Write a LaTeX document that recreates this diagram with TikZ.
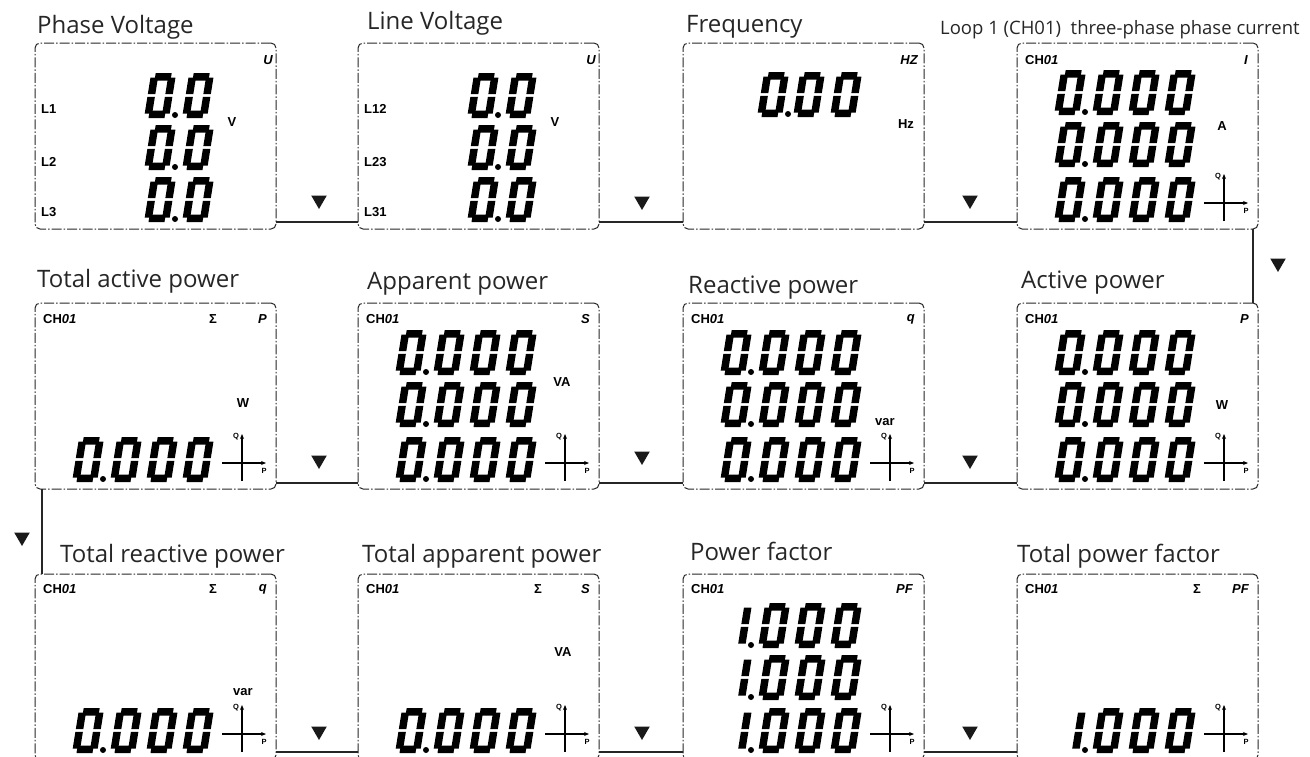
\documentclass[tikz,border=0pt]{standalone}
\usepackage{fontspec}
\setmainfont{Open Sans}
\newfontfamily\lcdf{Liberation Sans}
\usetikzlibrary{arrows.meta,shapes.geometric}

\newcommand\segzero[2]{\begin{scope}[shift={(#1,#2)},xslant=0.16,yscale=-1]
 \fill (4.5,37.5) rectangle (20.5,45);
 \fill (4.5,0) rectangle (20.5,7.5);
 \fill (0,23.8) rectangle (7.5,40.5);
 \fill (0,4.5) rectangle (7.5,21.2);
 \fill (17.5,23.8) rectangle (25,40.5);
 \fill (17.5,4.5) rectangle (25,21.2);
\end{scope}}
\newcommand\segone[2]{\begin{scope}[shift={(#1,#2)},xslant=0.16,yscale=-1]
 \fill (17.5,23.8) rectangle (25,40.5);
 \fill (17.5,4.5) rectangle (25,21.2);
\end{scope}}
\newcommand\segdot[2]{\fill (#1,#2) circle[radius=3];}
% 0.000 row: #1 = panel left, #2 = digit bottom
\newcommand\rowzero[2]{\segzero{#1+37}{#2}\segdot{#1+68}{#2-3}\segzero{#1+75}{#2}\segzero{#1+111}{#2}\segzero{#1+147}{#2}}
\newcommand\rowone[2]{\segone{#1+37}{#2}\segdot{#1+68}{#2-3}\segzero{#1+75}{#2}\segzero{#1+111}{#2}\segzero{#1+147}{#2}}
\newcommand\rowvolt[2]{\segzero{#1+109}{#2}\segdot{#1+140}{#2-3}\segzero{#1+147}{#2}}
% quadrant symbol: #1 left, #2 bottom, #3 name prefix
\newcommand\quadsym[3]{%
 \draw[qline] (#1+207,#2-8) -- (#1+207,#2-55);
 \draw[qline] (#1+187,#2-26) -- (#1+231,#2-26);
 \node[qlab] (#3q) at (#1+201,#2-52) {Q};
 \node[qlab] (#3p) at (#1+229,#2-18) {P};}

\begin{document}
\begin{tikzpicture}[x=1pt,y=-1pt,
  panel/.style={draw=black!85, line width=1pt, dash pattern=on 10pt off 2pt on 1.5pt off 2pt,
    rounded corners=5pt, minimum width=241pt, minimum height=186pt, inner sep=0pt, outer sep=0pt, anchor=north west},
  ttl/.style={anchor=base west, inner sep=0pt, font=\fontsize{24}{28}\selectfont, text=black!85},
  conn/.style={draw=black!85, line width=1.2pt},
  tri/.style={regular polygon, regular polygon sides=3, shape border rotate=180, fill=black!90, draw=none,
    minimum size=18pt, inner sep=0pt},
  lcd/.style={font=\lcdf\bfseries\fontsize{13}{13}\selectfont, inner sep=0pt},
  qline/.style={line width=2pt, -{Stealth[length=5pt,width=4pt]}},
  qlab/.style={font=\lcdf\bfseries\fontsize{7.5}{7.5}\selectfont, inner sep=0pt}]
\useasboundingbox (0,0) rectangle (1310,756);
\clip (0,0) rectangle (1310,756);

% panels
\node[panel] (p1) at (35,43) {};
\node[panel] (p2) at (358,43) {};
\node[panel] (p3) at (683,43) {};
\node[panel] (p4) at (1017,43) {};
\node[panel] (p5) at (35,303) {};
\node[panel] (p6) at (358,303) {};
\node[panel] (p7) at (683,303) {};
\node[panel] (p8) at (1017,303) {};
\node[panel] (p9) at (35,574) {};
\node[panel] (p10) at (358,574) {};
\node[panel] (p11) at (683,574) {};
\node[panel] (p12) at (1017,574) {};

% titles
\node[ttl] (t1) at (37,33) {Phase Voltage};
\node[ttl] (t2) at (367,29) {Line Voltage};
\node[ttl] (t3) at (686,32) {Frequency};
\node[ttl, font=\fontsize{18.5}{22}\selectfont] (t4) at (940,34) {Loop 1 (CH01)\ \ three-phase phase current};
\node[ttl] (t5) at (37,287) {Total active power};
\node[ttl] (t6) at (367,289) {Apparent power};
\node[ttl] (t7) at (688,293) {Reactive power};
\node[ttl] (t8) at (1021,288) {Active power};
\node[ttl] (t9) at (60,562) {Total reactive power};
\node[ttl] (t10) at (362,562) {Total apparent power};
\node[ttl] (t11) at (690,560) {Power factor};
\node[ttl] (t12) at (1017,562) {Total power factor};

% connectors
\draw[conn] ([yshift=7pt]p1.south east) -- ([yshift=7pt]p2.south west);
\draw[conn] ([yshift=7pt]p2.south east) -- ([yshift=7pt]p3.south west);
\draw[conn] ([yshift=7pt]p3.south east) -- ([yshift=7pt]p4.south west);
\draw[conn] ([xshift=-5pt]p4.south east) -- ([xshift=-5pt]p8.north east);
\draw[conn] ([yshift=6pt]p8.south west) -- ([yshift=6pt]p7.south east);
\draw[conn] ([yshift=6pt]p7.south west) -- ([yshift=6pt]p6.south east);
\draw[conn] ([yshift=6pt]p6.south west) -- ([yshift=6pt]p5.south east);
\draw[conn] ([xshift=7pt]p5.south west) -- ([xshift=7pt]p9.north west);
\draw[conn] ([yshift=8pt]p9.south east) -- ([yshift=8pt]p10.south west);
\draw[conn] ([yshift=8pt]p10.south east) -- ([yshift=8pt]p11.south west);
\draw[conn] ([yshift=8pt]p11.south east) -- ([yshift=8pt]p12.south west);

% triangles
\node[tri] (a1) at (319,200) {};
\node[tri] (a2) at (642,201) {};
\node[tri] (a3) at (970,200) {};
\node[tri] (a4) at (1278,263) {};
\node[tri] (a5) at (970,460) {};
\node[tri] (a6) at (642,456) {};
\node[tri] (a7) at (319,460) {};
\node[tri] (a8) at (22,537) {};
\node[tri] (a9) at (319,731) {};
\node[tri] (a10) at (642,731) {};
\node[tri] (a11) at (970,731) {};

% ---- panel 1
\node[lcd, anchor=east] (p1u) at (273,60) {\itshape U};
\node[lcd, anchor=west] (p1l1) at (41,109) {L1};
\node[lcd, anchor=west] (p1l2) at (41,162) {L2};
\node[lcd, anchor=west] (p1l3) at (41,212) {L3};
\node[lcd] (p1v) at (232,122) {V};
\rowvolt{35}{118}\rowvolt{35}{170}\rowvolt{35}{222}
% ---- panel 2
\node[lcd, anchor=east] (p2u) at (596,60) {\itshape U};
\node[lcd, anchor=west] (p2l1) at (364,109) {L12};
\node[lcd, anchor=west] (p2l2) at (364,162) {L23};
\node[lcd, anchor=west] (p2l3) at (364,212) {L31};
\node[lcd] (p2v) at (555,122) {V};
\rowvolt{358}{118}\rowvolt{358}{170}\rowvolt{358}{222}
% ---- panel 3
\node[lcd, anchor=east] (p3h) at (918,60) {\itshape HZ};
\node[lcd] (p3hz) at (906,124) {Hz};
\segzero{757}{117}\segdot{788}{114}\segzero{793}{117}\segzero{830}{117}
% ---- panel 4
\node[lcd, anchor=west] (p4c) at (1025,60) {CH\textit{01}};
\node[lcd, anchor=east] (p4i) at (1248,60) {\itshape I};
\node[lcd] (p4a) at (1222,126) {A};
\rowzero{1017}{115}\rowzero{1017}{167}\rowzero{1017}{222}
\quadsym{1017}{229}{p4}
% ---- panel 5
\node[lcd, anchor=west] (p5c) at (43,319) {CH\textit{01}};
\node[lcd] (p5s) at (213,319) {Σ};
\node[lcd, anchor=east] (p5p) at (267,319) {\itshape P};
\node[lcd] (p5w) at (243,403) {W};
\rowzero{35}{482}
\quadsym{35}{489}{p5}
% ---- panel 6
\node[lcd, anchor=west] (p6c) at (366,319) {CH\textit{01}};
\node[lcd, anchor=east] (p6s) at (590,319) {\itshape S};
\node[lcd] (p6va) at (562,382) {VA};
\rowzero{358}{375}\rowzero{358}{427}\rowzero{358}{482}
\quadsym{358}{489}{p6}
% ---- panel 7
\node[lcd, anchor=west] (p7c) at (691,319) {CH\textit{01}};
\node[lcd, anchor=east] (p7q) at (915,319) {\itshape q};
\node[lcd] (p7var) at (885,422) {var};
\rowzero{683}{375}\rowzero{683}{427}\rowzero{683}{482}
\quadsym{683}{489}{p7}
% ---- panel 8
\node[lcd, anchor=west] (p8c) at (1025,319) {CH\textit{01}};
\node[lcd, anchor=east] (p8p) at (1249,319) {\itshape P};
\node[lcd] (p8w) at (1222,405) {W};
\rowzero{1017}{375}\rowzero{1017}{427}\rowzero{1017}{482}
\quadsym{1017}{489}{p8}
% ---- panel 9
\node[lcd, anchor=west] (p9c) at (43,589) {CH\textit{01}};
\node[lcd] (p9s) at (213,589) {Σ};
\node[lcd, anchor=east] (p9q) at (267,589) {\itshape q};
\node[lcd] (p9var) at (243,692) {var};
\rowzero{35}{753}
\quadsym{35}{760}{p9}
% ---- panel 10
\node[lcd, anchor=west] (p10c) at (366,589) {CH\textit{01}};
\node[lcd] (p10s) at (538,589) {Σ};
\node[lcd, anchor=east] (p10sv) at (590,589) {\itshape S};
\node[lcd] (p10va) at (563,652) {VA};
\rowzero{358}{753}
\quadsym{358}{760}{p10}
% ---- panel 11
\node[lcd, anchor=west] (p11c) at (691,589) {CH\textit{01}};
\node[lcd, anchor=east] (p11pf) at (913,589) {\itshape PF};
\rowone{683}{648}\rowone{683}{700}\rowone{683}{753}
\quadsym{683}{760}{p11}
% ---- panel 12
\node[lcd, anchor=west] (p12c) at (1025,589) {CH\textit{01}};
\node[lcd] (p12s) at (1197,589) {Σ};
\node[lcd, anchor=east] (p12pf) at (1249,589) {\itshape PF};
\rowone{1017}{753}
\quadsym{1017}{760}{p12}
\end{tikzpicture}
\end{document}
